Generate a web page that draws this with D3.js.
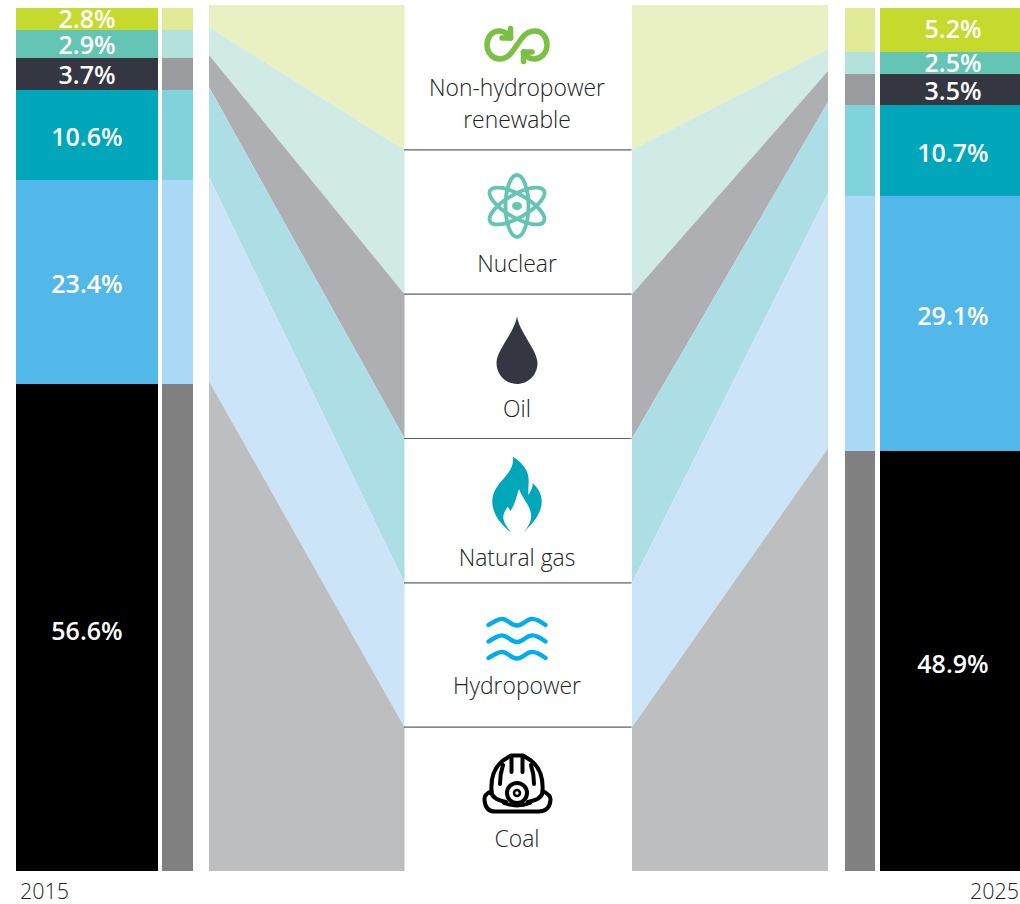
<!DOCTYPE html>
<html><head><meta charset="utf-8">
<script src="https://cdn.jsdelivr.net/npm/d3@7"></script>
<style>html,body{margin:0;padding:0;background:#fff}svg{display:block}text{font-family:"Open Sans",sans-serif}</style>
</head><body><svg id="c" width="1020" height="904"></svg>
<script>
// Data, top of stack to bottom
const categories = ["Non-hydropower renewable","Nuclear","Oil","Natural gas","Hydropower","Coal"];
const labels2015 = ["2.8%","2.9%","3.7%","10.6%","23.4%","56.6%"];
const labels2025 = ["5.2%","2.5%","3.5%","10.7%","29.1%","48.9%"];
const shares2015 = [2.55,3.24,3.71,10.43,23.64,56.43];
const shares2025 = [5.1,2.55,3.59,10.54,29.55,48.67];
const years = ["2015","2025"];

// Styles and layout
const mainColors = ["#c6d92d","#64c5b4","#343642","#00a7ba","#52b7e9","#000000"];
const paleColors = ["#e1eb97","#b3e1db","#9a9b9f","#80d2db","#a9d9f4","#808080"];
const ribbonColors = ["#e9f0c2","#d0ebe6","#aeafb3","#addde5","#cbe4f8","#bdbec0"];
const dy2015 = [0,2,2,3,2,4];
const dy2025 = [-1,0,2,3,-7,4];

const svg = d3.select("#c");
const yBar = d3.scaleLinear().domain([0,100]).range([8,871]);
const yRibbon = d3.scaleLinear().domain([0,99.999,100]).range([5,868.5,871]);
const yBand = d3.scaleBand().domain(categories).range([5.5,871.5]);

const cum = a => { let s=0; return a.map(v=>{const r=[s,s+v]; s+=v; return r;}); };
const stack2015 = cum(shares2015), stack2025 = cum(shares2025);
stack2015[5][1] = 100; stack2025[5][1] = 100;

function bars(stack, colors, x0, x1){
  svg.append("g").selectAll("rect").data(stack).join("rect")
    .attr("x",x0).attr("width",x1-x0)
    .attr("y",d=>yBar(d[0])).attr("height",d=>yBar(d[1])-yBar(d[0]))
    .attr("fill",(d,i)=>colors[i]);
}
bars(stack2015, paleColors, 162, 193);
bars(stack2015, mainColors, 16, 158);
bars(stack2025, paleColors, 845, 875);
bars(stack2025, mainColors, 880, 1020);

function barLabels(stack, text, dy, cx){
  svg.append("g").selectAll("text").data(stack).join("text")
    .attr("x",cx).attr("y",(d,i)=>(yBar(d[0])+yBar(d[1]))/2+dy[i]+8.5)
    .attr("text-anchor","middle").attr("fill","#fff")
    .attr("font-size",25).attr("font-weight",600)
    .text((d,i)=>text[i]);
}
barLabels(stack2015, labels2015, dy2015, 87);
barLabels(stack2025, labels2025, dy2025, 953);

// Ribbons
const area = d3.area().x(d=>d.x).y0(d=>d.y0).y1(d=>d.y1);
function ribbons(stack, xOuter, xInner){
  svg.append("g").selectAll("path").data(stack).join("path")
    .attr("fill",(d,i)=>ribbonColors[i])
    .attr("d",(d,i)=>area([
      {x:xOuter,y0:yRibbon(d[0]),y1:yRibbon(d[1])},
      {x:xInner,y0:i?yBand(categories[i]):5,y1:i<5?yBand(categories[i])+yBand.bandwidth():871}
    ]));
}
ribbons(stack2015, 209, 404.5);
ribbons(stack2025, 828, 632);

// Center dividers
svg.append("g").selectAll("line").data(categories.slice(0,-1)).join("line")
  .attr("x1",404).attr("x2",631.5)
  .attr("y1",d=>yBand(d)+yBand.bandwidth())
  .attr("y2",d=>yBand(d)+yBand.bandwidth())
  .attr("stroke","#5f6068").attr("stroke-width",1.2);

// Center labels
const center = 517;
const labelLines = [["Non-hydropower","renewable"],["Nuclear"],["Oil"],["Natural gas"],["Hydropower"],["Coal"]];
const labelBase = [[95.5,128],[272],[417],[566],[694],[847]];
labelLines.forEach((lines,i)=>lines.forEach((t,j)=>{
  svg.append("text").attr("x",center).attr("y",labelBase[i][j]).attr("text-anchor","middle")
    .attr("font-size",22.9).attr("font-weight",300).attr("fill","#222").text(t);
}));

// Year labels
svg.append("text").attr("x",20).attr("y",899).attr("font-size",21.5).attr("font-weight",300).attr("fill","#222").text(years[0]);
svg.append("text").attr("x",1019).attr("y",899).attr("text-anchor","end").attr("font-size",21.5).attr("font-weight",300).attr("fill","#222").text(years[1]);

// Icons
const ic = svg.append("g");
// renewable
const g1 = ic.append("g").attr("fill","none").attr("stroke","#7ac143").attr("stroke-width",5.5).attr("stroke-linecap","round").attr("stroke-linejoin","round");
g1.append("path").attr("d","M510.5,38 C508,34 504,31 499,31 C492,31 487,37 487,45 C487,53 493,59 500,59 C506,59 509,56 512,52 L522,38 C525,34 529,31 535,31 C542,31 547,37 547,45 C547,53 541,59 534,59 C530,59 526,56 523.5,52");
g1.append("path").attr("d","M510.5,28.5 L510.5,38 L502,38");
g1.append("path").attr("d","M523.5,61.5 L523.5,52 L532,52");
// nuclear
const g2 = ic.append("g").attr("transform","translate(517,206)");
[0,60,-60].forEach(r=>g2.append("ellipse").attr("rx",11.5).attr("ry",31).attr("transform",`rotate(${r})`).attr("fill","none").attr("stroke","#64c5b4").attr("stroke-width",3.8));
g2.append("ellipse").attr("rx",5).attr("ry",4).attr("fill","#64c5b4");
// oil
ic.append("path").attr("fill","#343642").attr("d","M517,316 C519,332 537.5,350 537.5,363 C537.5,375 528,384 517,384 C506,384 496.5,375 496.5,363 C496.5,350 515,332 517,316 Z");
// gas flame
ic.append("path").attr("fill","#00a7ba").attr("d","M512.7,456.7 C522,462 528,470 528.5,478 C529,484 528,490 528.3,495 C531,491 533,487 532.7,483 C538,488 541.7,494 541.7,501 C541.7,516 530,525 524,532.5 C529,525 532,520 531,514 C530,505 522,498 519,489 C517,495 516,499 514.5,503 C513,507 511.5,509 510.7,511 C509.5,509 508,507 507.3,506.7 C506,510 503,513 503.3,518 C504,524 508,528 511,532.5 C503,526 492.3,516 492.3,501 C492.3,490 500,483 505,477 C511,470 514,464 512.7,456.7 Z");
// hydro
const g5 = ic.append("g").attr("fill","none").attr("stroke","#00adef").attr("stroke-width",4.3).attr("stroke-linecap","round");
[0,16.5,33].forEach(dy=>g5.append("path").attr("transform",`translate(0,${dy})`).attr("d","M488.5,625 C495,621 499,618.5 503,619 C508,619.5 511,625.5 517,625.5 C523,625.5 526,619.5 531,619 C535,618.5 540,621 545.5,625"));
// coal helmet
const g6 = ic.append("g").attr("fill","none").attr("stroke","#000").attr("stroke-width",4).attr("stroke-linecap","round").attr("stroke-linejoin","round");
g6.append("path").attr("d","M491.5,791 C490.5,776 496,766 503,760.5 L511,755.5 L523,755.5 L531,760.5 C538,766 543.5,776 542.5,791");
g6.append("path").attr("d","M491.5,791 C487,793 484,796 484.5,800 C485,807 488,811.5 495,811.5 L539,811.5 C546,811.5 550,807 550.5,800 C551,796 547,793 542.5,791 C543,797 538,800 528,802 M491.5,791 C491,797 496,800 506,802");
g6.append("path").attr("d","M504,803 C512,806 522,806 530,803");
g6.append("path").attr("d","M511.5,757 L511.5,772 M522.5,757 L522.5,772 M503,765 C501,771 500,778 500,784 M531,765 C533,771 534,778 534,784");
g6.append("circle").attr("cx",517).attr("cy",793).attr("r",10).attr("fill","#fff");
g6.append("circle").attr("cx",517).attr("cy",793).attr("r",3).attr("stroke-width",2.5);
</script></body></html>
